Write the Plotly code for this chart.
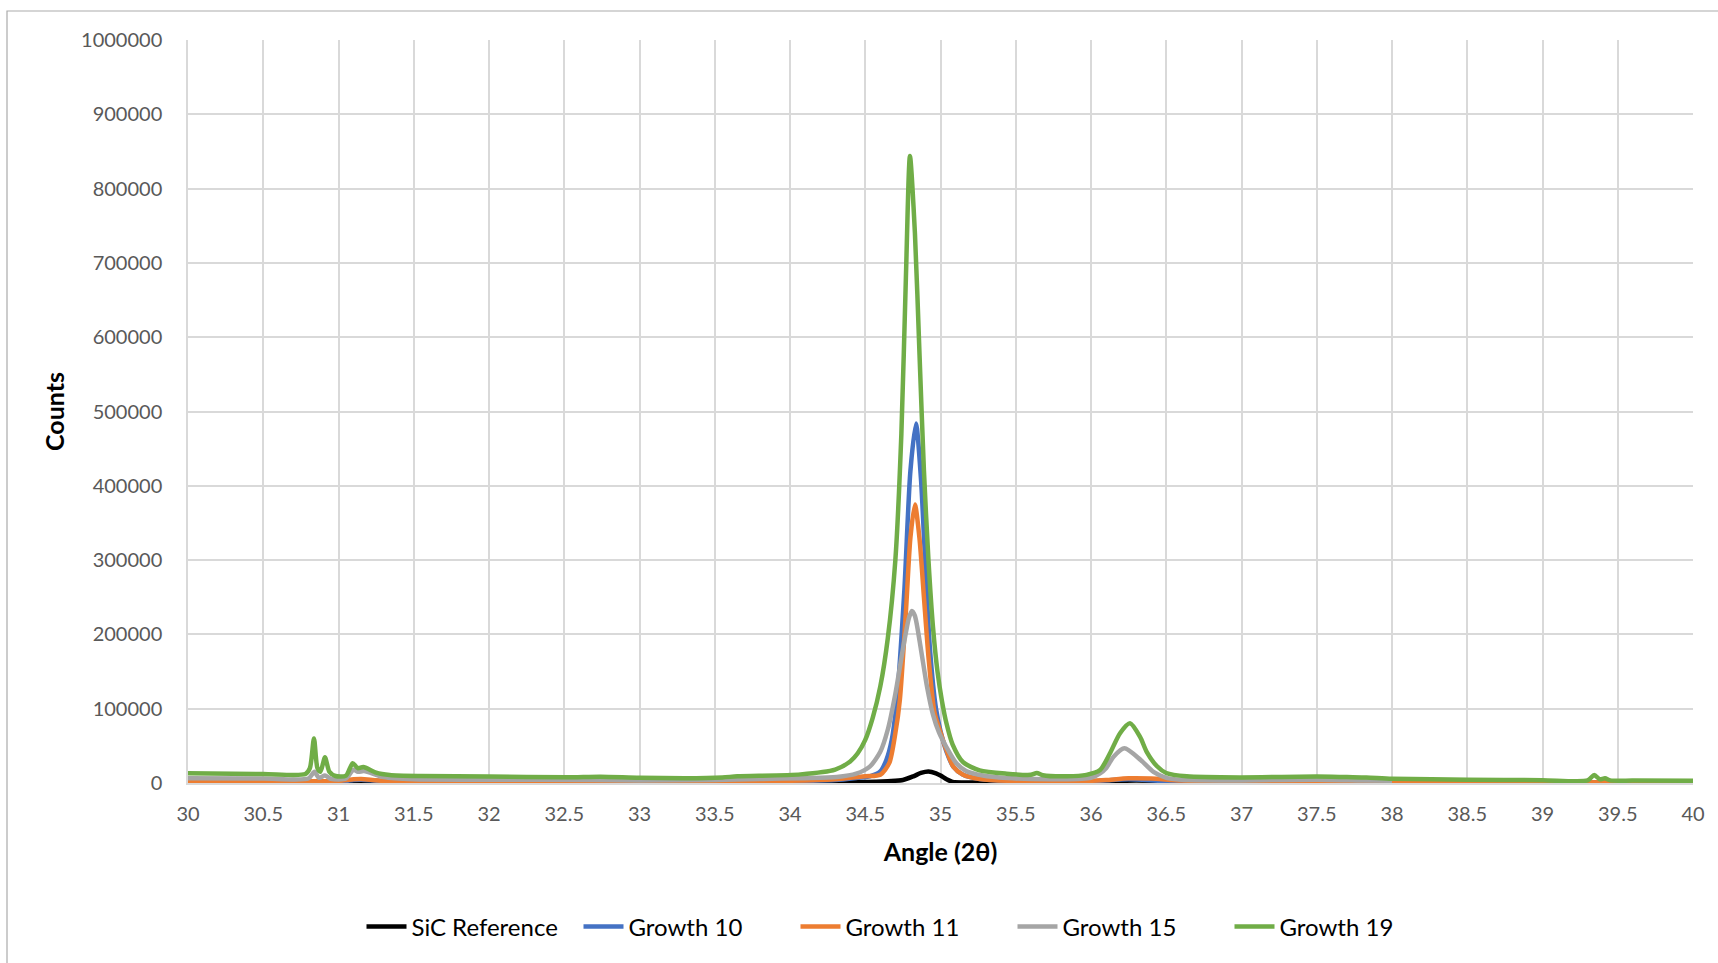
import plotly.graph_objects as go

# ---------------- data ----------------
sic_x = [30, 31, 31.1, 31.15, 31.25, 32, 33, 34, 34.5, 34.65, 34.75, 34.82, 34.87, 34.92, 34.97,
         35.0, 35.04, 35.08, 35.2, 35.5, 36, 36.1, 36.2, 36.3, 36.4, 36.5, 37, 38, 39, 40]
sic_y = [500, 400, 1500, 2500, 800, 400, 300, 400, 1200, 2500, 4000, 9000, 13500, 15500, 13000,
         10000, 5000, 1500, 700, 500, 1000, 2000, 3000, 3500, 3000, 1800, 600, 400, 300, 300]

g10_x = [30, 31, 31.1, 31.15, 31.3, 32, 33, 34, 34.3, 34.45, 34.53, 34.6, 34.64, 34.676, 34.71,
         34.76, 34.8, 34.837, 34.87, 34.9, 34.93, 34.97, 35.0, 35.04, 35.085, 35.15, 35.26, 35.45,
         36, 36.25, 36.5, 37, 38, 39, 40]
g10_y = [2500, 2000, 4000, 4500, 2500, 2000, 1500, 2500, 4000, 7000, 9000, 15600, 31000, 58000, 112000,
         260000, 420000, 484000, 410000, 290000, 180000, 100000, 70000, 42000, 22000, 11000, 5500, 3000,
         2500, 5000, 2500, 1500, 1200, 800, 500]

g11_x = [30, 31, 31.1, 31.15, 31.3, 32, 33, 34, 34.3, 34.5, 34.6, 34.66, 34.7, 34.73, 34.77, 34.8,
         34.83, 34.86, 34.89, 34.92, 34.96, 35.0, 35.04, 35.085, 35.15, 35.26, 35.45, 36, 36.1,
         36.25, 36.4, 36.6, 37, 38, 39, 40]
g11_y = [3000, 2800, 5000, 5500, 3000, 2500, 1800, 3000, 5000, 9000, 11000, 27000, 67000, 112000, 230000,
         330000, 375000, 330000, 250000, 170000, 95000, 68000, 44000, 22000, 11000, 5400, 3000, 3000, 4000,
         6300, 6000, 3500, 2500, 2200, 1000, 800]

g15_x = [30, 30.5, 30.8, 30.84, 30.87, 30.91, 30.95, 31.05, 31.1, 31.13, 31.17, 31.3, 31.5, 32, 32.7,
         33, 33.5, 33.8, 34.1, 34.31, 34.44, 34.53, 34.6, 34.65, 34.7, 34.75, 34.79, 34.81, 34.83,
         34.87, 34.91, 34.95, 34.99, 35.04, 35.1, 35.17, 35.28, 35.44, 35.8, 36.0, 36.06, 36.1, 36.15,
         36.222, 36.33, 36.415, 36.5, 36.6, 37, 37.5, 37.8, 38.0]
g15_y = [6500, 6000, 6000, 15000, 7000, 10000, 5500, 6000, 18000, 15000, 16000, 8000, 5000, 4500, 4000,
         3500, 4000, 5400, 6500, 8000, 12500, 22000, 42000, 72000, 120000, 180000, 222000, 231500, 225000,
         180000, 130000, 92000, 68000, 48000, 28000, 16000, 10000, 6700, 5000, 7000, 13000, 20000, 35400,
         46700, 31000, 15000, 7000, 4500, 3500, 4500, 3500, 3000]

g19_x = [30, 30.5, 30.78, 30.81, 30.837, 30.86, 30.88, 30.91, 30.94, 30.98, 31.05, 31.094, 31.13,
         31.165, 31.25, 31.34, 31.54, 32, 32.516, 32.74, 33, 33.3, 33.55, 33.65, 34.07, 34.3, 34.4,
         34.45, 34.5, 34.55, 34.6, 34.65, 34.7, 34.74, 34.77, 34.797, 34.83, 34.86, 34.89, 34.92,
         34.95, 34.98, 35.01, 35.04, 35.08, 35.15, 35.26, 35.44, 35.6, 35.64, 35.68, 35.84,
         35.97, 36.06, 36.126, 36.193, 36.259, 36.326, 36.37, 36.437, 36.5, 36.636, 36.99, 37.5, 37.7,
         37.83, 38.0, 38.5, 39.0, 39.3, 39.344, 39.38, 39.415, 39.45, 39.6, 40.0]
g19_y = [13000, 12000, 12000, 20000, 60000, 20000, 15000, 34500, 15000, 9400, 10000, 26500, 19800,
         21500, 14000, 10800, 9400, 8800, 7700, 8500, 7000, 6500, 7500, 9000, 11600, 18000, 29000,
         40000, 58000, 88000, 130000, 195000, 300000, 470000, 680000, 844000, 740000, 580000, 420000, 300000,
         210000, 150000, 110000, 80000, 52000, 28000, 17000, 12500, 11000, 13500, 10500, 9000,
         11000, 17500, 40000, 67000, 80300, 62000, 42000, 22900, 13500, 9000, 7500, 8800, 8000,
         7500, 5800, 4500, 3800, 3500, 10800, 5000, 6300, 3500, 3200, 3000]

series = [
    ("SiC Reference", sic_x, sic_y, "#000000"),
    ("Growth 10", g10_x, g10_y, "#4472C4"),
    ("Growth 11", g11_x, g11_y, "#ED7D31"),
    ("Growth 15", g15_x, g15_y, "#A5A5A5"),
    ("Growth 19", g19_x, g19_y, "#70AD47"),
]

x_ticks = [30 + 0.5 * i for i in range(21)]
x_tick_text = [("%g" % v) for v in x_ticks]
y_ticks = [i * 100000 for i in range(11)]
y_tick_text = [str(v) for v in y_ticks]

# ---------------- figure ----------------
W, H = 1718, 963
L, R, T, B = 188, 25, 40, 180
pw, ph = W - L - R, H - T - B

fig = go.Figure()
for name, xs, ys, col in series:
    fig.add_trace(go.Scatter(x=xs, y=ys, mode="lines", name=name,
                             line=dict(color=col, width=4.5, shape="spline", smoothing=0.7)))

font_family = "Lato, 'Open Sans', sans-serif"

fig.update_layout(
    width=W, height=H,
    margin=dict(l=L, r=R, t=T, b=B, pad=0),
    paper_bgcolor="white", plot_bgcolor="white",
    font=dict(family=font_family, color="#595959", size=20),
    showlegend=True,
    legend=dict(orientation="h", x=(904 - L) / pw, xanchor="center",
                y=-(927 - (T + ph)) / ph, yanchor="middle",
                font=dict(size=24, color="#000000", family=font_family),
                entrywidth=162, entrywidthmode="pixels",
                itemwidth=40, tracegroupgap=0),
    xaxis=dict(range=[30, 40], tickmode="array", tickvals=x_ticks, ticktext=x_tick_text,
               showgrid=True, gridcolor="#D9D9D9", gridwidth=1.5,
               showline=True, linecolor="#D9D9D9", linewidth=1.5,
               zeroline=False, ticks="", ticklabelstandoff=12,
               tickfont=dict(size=20, color="#595959"),
               title=dict(text="<b>Angle (2θ)</b>", standoff=20,
                          font=dict(size=25, color="#000000"))),
    yaxis=dict(range=[0, 1000000], tickmode="array", tickvals=y_ticks, ticktext=y_tick_text,
               showgrid=True, gridcolor="#D9D9D9", gridwidth=1.5,
               showline=True, linecolor="#D9D9D9", linewidth=1.5,
               zeroline=False, ticks="", ticklabelstandoff=20,
               tickfont=dict(size=20, color="#595959"),
               title=dict(text="<b>Counts</b>", standoff=9,
                          font=dict(size=25, color="#000000"))),
    shapes=[dict(type="rect", xref="paper", yref="paper",
                 x0=(7 - L) / pw, x1=(W + 5 - L) / pw,
                 y0=-(H + 5 - (T + ph)) / ph, y1=((T + ph) - 11) / ph,
                 line=dict(color="#ABABAB", width=1.2), fillcolor="rgba(0,0,0,0)", layer="below")],
)

fig.write_html("out.html")
